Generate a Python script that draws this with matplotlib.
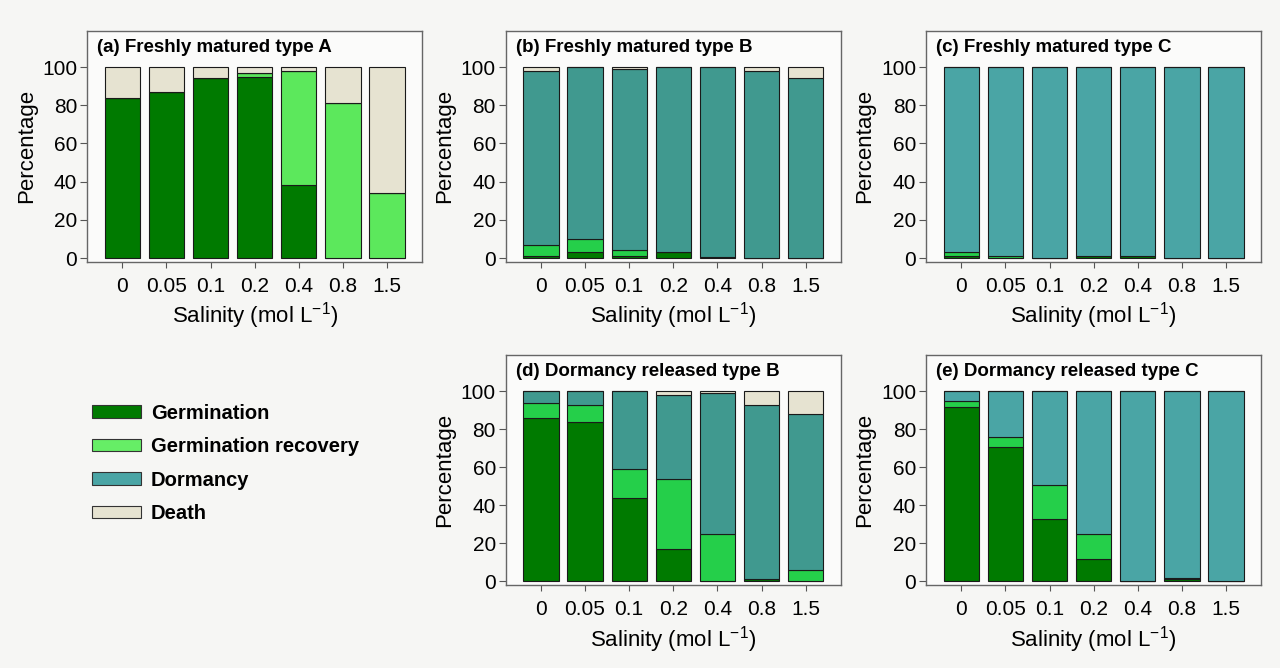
import matplotlib
matplotlib.use("Agg")
import matplotlib.pyplot as plt
from matplotlib.patches import Patch
import numpy as np

plt.rcParams['font.family'] = ['Liberation Sans', 'DejaVu Sans']
plt.rcParams['mathtext.fontset'] = 'custom'
plt.rcParams['mathtext.rm'] = 'Liberation Sans'

salinity = ["0", "0.05", "0.1", "0.2", "0.4", "0.8", "1.5"]

# percentages per salinity level, stacked bottom to top
# (a) Freshly matured type A
a_germ = [84, 87, 94, 95, 38, 0, 0]
a_recov = [0, 0, 0, 2, 60, 81, 34]
a_dorm = [0, 0, 0, 0, 0, 0, 0]
a_death = [16, 13, 6, 3, 2, 19, 66]

# (b) Freshly matured type B
b_germ = [1, 3, 1, 3, 0.5, 0, 0]
b_recov = [6, 7, 3, 0, 0, 0, 0]
b_dorm = [91, 90, 95, 97, 99.5, 98, 94]
b_death = [2, 0, 1, 0, 0, 2, 6]

# (c) Freshly matured type C
c_germ = [1, 0, 0, 1, 1, 0, 0]
c_recov = [2, 1, 0, 0, 0, 0, 0]
c_dorm = [97, 99, 100, 99, 99, 100, 100]
c_death = [0, 0, 0, 0, 0, 0, 0]

# (d) Dormancy released type B
d_germ = [86, 84, 44, 17, 0, 1, 0]
d_recov = [8, 9, 15, 37, 25, 0, 6]
d_dorm = [6, 7, 41, 44, 74, 92, 82]
d_death = [0, 0, 0, 2, 1, 7, 12]

# (e) Dormancy released type C
e_germ = [92, 71, 33, 12, 0, 1, 0]
e_recov = [3, 5, 18, 13, 0, 1, 0]
e_dorm = [5, 24, 49, 75, 100, 98, 100]
e_death = [0, 0, 0, 0, 0, 0, 0]

titles = ["(a) Freshly matured type A", "(b) Freshly matured type B",
          "(c) Freshly matured type C", "(d) Dormancy released type B",
          "(e) Dormancy released type C"]
legend_labels = ["Germination", "Germination recovery", "Dormancy", "Death"]

col_germ = "#007a00"
col_recov_light = "#5ce85c"
col_recov = "#25cf4a"
col_dorm = "#40998f"
col_dorm_light = "#4aa5a5"
col_death = "#e6e3d1"
bg = "#f6f6f4"

fig = plt.figure(figsize=(12.8, 6.68), dpi=100, facecolor=bg)

# left, bottom, width, height in figure fractions
positions = [
    [0.068, 0.608, 0.262, 0.346],
    [0.395, 0.608, 0.262, 0.346],
    [0.7234, 0.608, 0.262, 0.346],
    [0.395, 0.124, 0.262, 0.344],
    [0.7234, 0.124, 0.262, 0.344],
]
panels = [
    (a_germ, a_recov, a_dorm, a_death, col_recov_light, col_dorm),
    (b_germ, b_recov, b_dorm, b_death, col_recov, col_dorm),
    (c_germ, c_recov, c_dorm, c_death, col_recov, col_dorm_light),
    (d_germ, d_recov, d_dorm, d_death, col_recov, col_dorm),
    (e_germ, e_recov, e_dorm, e_death, col_recov, col_dorm_light),
]

x = np.arange(len(salinity))
for pos, panel, title in zip(positions, panels, titles):
    germ, recov, dorm, death, rc, dc = panel
    ax = fig.add_axes(pos)
    ax.set_facecolor("#fbfbfa")
    bottom = np.zeros(len(x))
    for vals, color in zip([germ, recov, dorm, death], [col_germ, rc, dc, col_death]):
        vals = np.array(vals, dtype=float)
        ax.bar(x, vals, 0.8, bottom=bottom, color=color,
               edgecolor="#1a1a1a", linewidth=0.8)
        bottom += vals
    ax.set_xlim(-0.8, 6.8)
    ax.set_ylim(-2, 119)
    ax.set_yticks([0, 20, 40, 60, 80, 100])
    ax.set_xticks(x)
    ax.set_xticklabels(salinity)
    ax.tick_params(axis="y", labelsize=15, length=5, color="#555555", pad=2)
    ax.tick_params(axis="x", labelsize=15, length=4, color="#555555", pad=7)
    for s in ax.spines.values():
        s.set_color("#666666")
        s.set_linewidth(1.0)
    ax.set_ylabel("Percentage", fontsize=16, labelpad=4)
    ax.set_xlabel(r"Salinity (mol L$^{-1}$)", fontsize=16, labelpad=3)
    ax.text(0.03, 0.965, title, transform=ax.transAxes, ha="left", va="top",
            fontsize=13.5, fontweight="bold")

handles = [Patch(facecolor=c, edgecolor="#333333", linewidth=0.8)
           for c in [col_germ, "#66ee66", col_dorm_light, col_death]]
fig.legend(handles, legend_labels, loc="upper left",
           bbox_to_anchor=(0.058, 0.423), frameon=False,
           prop={"weight": "bold", "size": 14.5},
           handlelength=2.4, handleheight=0.55, labelspacing=0.72,
           handletextpad=0.5)

fig.savefig("out.png", dpi=100, facecolor=bg)
